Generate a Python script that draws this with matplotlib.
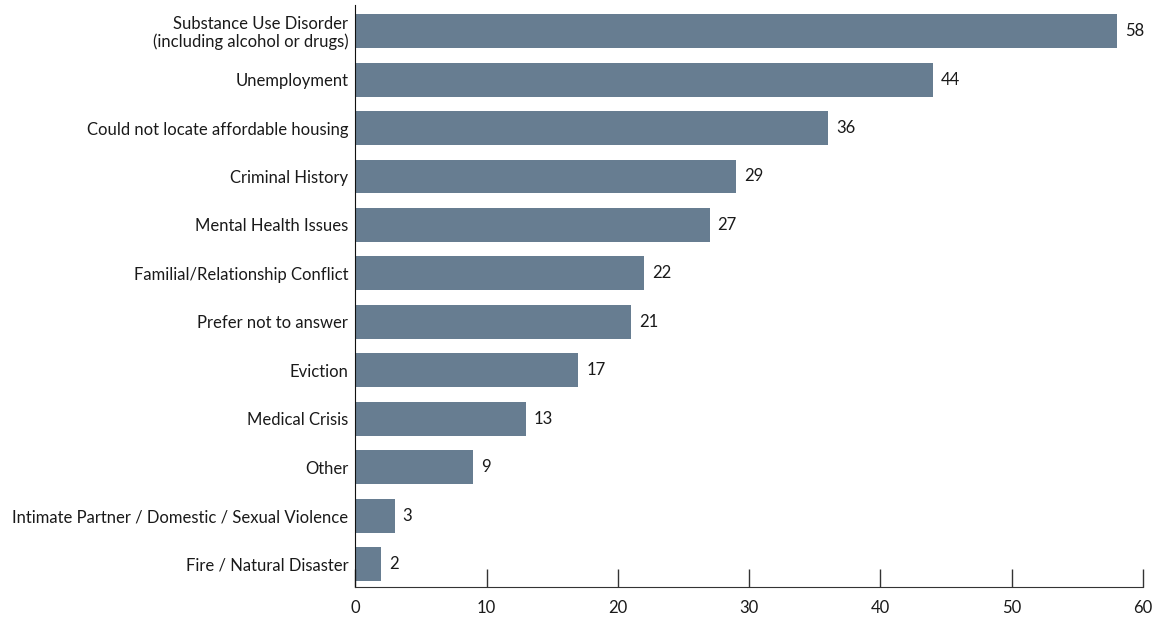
import matplotlib
matplotlib.use("Agg")
import matplotlib.pyplot as plt

# Datos del gráfico
categorias = [
    "Substance Use Disorder\n(including alcohol or drugs)",
    "Unemployment",
    "Could not locate affordable housing",
    "Criminal History",
    "Mental Health Issues",
    "Familial/Relationship Conflict",
    "Prefer not to answer",
    "Eviction",
    "Medical Crisis",
    "Other",
    "Intimate Partner / Domestic / Sexual Violence",
    "Fire / Natural Disaster",
]
valores = [58, 44, 36, 29, 27, 22, 21, 17, 13, 9, 3, 2]
ticks_x = [0, 10, 20, 30, 40, 50, 60]

color_barra = "#677d91"
color_texto = "#1a1a1a"

plt.rcParams["font.family"] = ["Lato", "DejaVu Sans"]

fig = plt.figure(figsize=(11.57, 6.18), dpi=100)
ax = fig.add_axes([0.307, 0.050, 0.681, 0.942])

posiciones = list(range(len(categorias)))
ax.barh(posiciones, valores, height=0.70, color=color_barra)

for y, v in zip(posiciones, valores):
    ax.text(v + 0.6, y, str(v), va="center", ha="left", fontsize=12, color=color_texto)

ax.set_ylim(len(categorias) - 1 + 0.475, -0.54)
ax.set_xlim(0, 60)
ax.set_yticks(posiciones)
ax.set_yticklabels(categorias, fontsize=12, color=color_texto, linespacing=1.05)
ax.set_xticks(ticks_x)
ax.set_xticklabels([str(t) for t in ticks_x], fontsize=12, color=color_texto)

ax.tick_params(axis="y", length=0, pad=5)
ax.tick_params(axis="x", direction="in", length=13, width=1, color="#333333", pad=9)

for lado in ["top", "right"]:
    ax.spines[lado].set_visible(False)
ax.spines["left"].set_color("#111111")
ax.spines["bottom"].set_color("#333333")

fig.savefig("out.png", dpi=100)
